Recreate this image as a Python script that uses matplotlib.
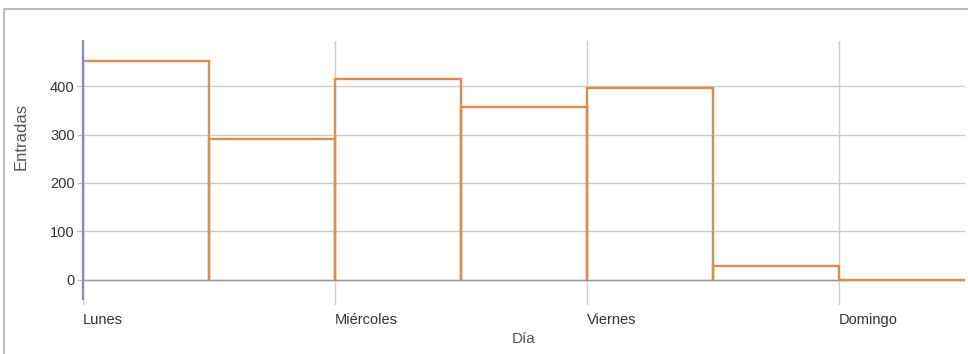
import matplotlib.pyplot as plt
from matplotlib.patches import Rectangle

plt.rcParams['font.family'] = ['Liberation Sans', 'DejaVu Sans']

# Entradas por día
dias = ['Lunes', 'Martes', 'Miércoles', 'Jueves', 'Viernes', 'Sábado', 'Domingo']
entradas = [453, 291, 415, 357, 396, 28, 0]
dias_etiqueta = ['Lunes', 'Miércoles', 'Viernes', 'Domingo']

# contorno de cada barra: sube desde 0, tramo plano, baja a 0
xs, ys = [], []
for i, v in enumerate(entradas):
    xs += [i, i, i + 1, i + 1]
    ys += [0, v, v, 0]
# el último día no baja al final
xs, ys = xs[:-1], ys[:-1]

fig = plt.figure(figsize=(9.68, 3.54), dpi=100)
ax = fig.add_axes([0.0857, 0.138, 0.911, 0.745])

# marco gris de la imagen
fig.patches.append(Rectangle((4 / 968, -0.1), 1.2, 1.1 - 9 / 354, transform=fig.transFigure,
                             fill=False, edgecolor='#b0b0b0', linewidth=1.2))

ax.plot(xs, ys, color='#d98d50', linewidth=1.7, zorder=3, solid_joinstyle='miter')

ax.set_xlim(0, 7)
ax.set_ylim(-53, 493)
ax.set_yticks([0, 100, 200, 300, 400])
ax.set_xticks([dias.index(d) for d in dias_etiqueta])
ax.set_xticklabels(dias_etiqueta, ha='left')

ax.grid(True, color='#cccccc', linewidth=1)
ax.axhline(0, color='#999999', linewidth=1, zorder=2)

for s in ['top', 'right', 'bottom']:
    ax.spines[s].set_visible(False)
ax.spines['left'].set_color('#8c84dc')
ax.spines['left'].set_linewidth(1.6)
ax.spines['left'].set_bounds(-40, 493)
ax.spines['left'].set_zorder(4)

ax.tick_params(axis='both', labelsize=10.5, labelcolor='#333333')
ax.tick_params(axis='x', length=0, pad=6)
ax.tick_params(axis='y', length=4, color='#bbbbbb', pad=2)

ax.set_xlabel('Día', fontsize=11, color='#555555', labelpad=3)
ax.set_ylabel('Entradas', fontsize=12, color='#555555')
ax.yaxis.set_label_coords(-0.062, 0.638)

fig.savefig('out.png', dpi=100)
